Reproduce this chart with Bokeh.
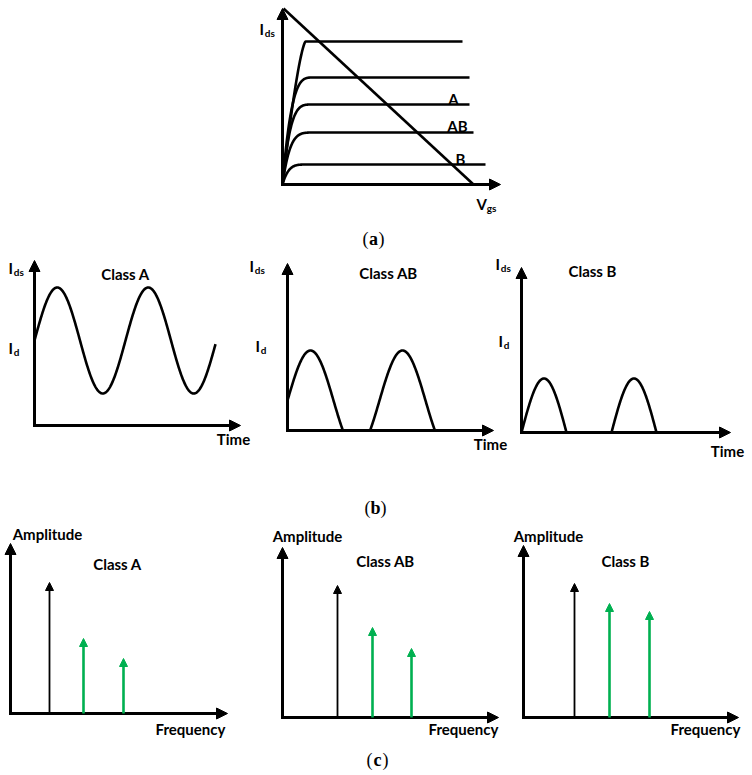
import numpy as np
from bokeh.plotting import figure
from bokeh.models import Range1d, Arrow, NormalHead
from bokeh.core.properties import value
from bokeh.embed import file_html
from bokeh.resources import INLINE

# ---------------- data (picture pixel coordinates) ----------------
# (a) I-V characteristics
iv_origin = (282, 184)
iv_axis_top_y = 8
iv_axis_right_x = 500
iv_levels_y = [41, 77, 104, 132, 164]
iv_knee_x = [305, 313, 313, 318, 311]
iv_end_x = [462, 469, 469, 473, 485]
iv_knee_power = [1.4, 3.5, 4.0, 5.0, 5.0]
load_line_x = [283, 473]
load_line_y = [8, 184]
iv_labels = ["A", "AB", "B"]
iv_labels_x = [453, 457, 460]
iv_labels_y = [98, 125, 158]

# (b) current waveforms
wave_origin_x = [34, 287, 521]
wave_origin_y = [425, 430, 432]
wave_top_y = [260, 263, 267]
wave_right_x = [240, 493, 730]
wave_bias = [85, 30, 0]
wave_amp = [53, 50, 54]
wave_period = [91, 92, 90]
wave_end_x = [215, 440, 662]
wave_titles = ["Class A", "Class AB", "Class B"]
wave_titles_x = [125, 388, 592]
wave_titles_y = [273, 272, 270]
time_x = [233, 490, 727]
time_y = [438, 443, 450]
ids_x = [8, 249, 495]
ids_y = [267, 265, 263]
id_x = [8, 255, 498]
id_y = [347, 345, 340]

# (c) spectra
spec_origin_x = [10, 282, 523]
spec_origin_y = [713, 717, 717]
spec_top_y = [543, 547, 545]
spec_right_x = [227, 498, 738]
fund_x = [49, 337, 574]
fund_top = [582, 585, 583]
harm2_x = [83, 372, 609]
harm2_top = [638, 627, 603]
harm3_x = [123, 411, 649]
harm3_top = [658, 648, 611]
spec_titles = ["Class A", "Class AB", "Class B"]
spec_titles_x = [117, 385, 625]
spec_titles_y = [563, 560, 560]
ampl_x = [47, 307, 548]
ampl_y = [533, 535, 535]
freq_x = [190, 463, 705]
freq_y = [728, 728, 728]

captions = ["a", "b", "c"]
captions_x = [373, 375, 377]
captions_y = [238, 507, 759]

GREEN = "#00B050"
SANS = value("Lato")
SERIF = value("Liberation Serif")

# ---------------- figure ----------------
W, H = 752, 775
p = figure(width=W, height=H, x_range=Range1d(0, W), y_range=Range1d(H, 0),
           output_backend="svg", toolbar_location=None, min_border=0,
           x_axis_location=None, y_axis_location=None)
p.grid.visible = False
p.outline_line_color = None


def axes(x0, y0, top, right, lw=3, head=11):
    p.line([x0, x0, right - 6], [top + 6, y0, y0], line_color="black", line_width=lw,
           line_join="miter")
    for (xs, ys, xe, ye) in [(x0, y0, x0, top), (x0, y0, right, y0)]:
        p.add_layout(Arrow(x_start=xs, y_start=ys, x_end=xe, y_end=ye, line_width=lw,
                           line_color="black",
                           end=NormalHead(size=head, fill_color="black", line_color="black",
                                          line_width=1)))


def sub_label(base, sub, x, y, size=15, sub_size=10, off=0.35):
    p.text([x], [y], text=[base], text_font=SANS, text_font_style="bold",
           text_font_size=f"{size}px", text_align="left", text_baseline="middle")
    p.text([x + off * size], [y + 0.28 * size], text=[sub], text_font=SANS,
           text_font_style="bold", text_font_size=f"{sub_size}px", text_align="left",
           text_baseline="middle")


def label(txts, xs, ys, size=15):
    p.text(xs, ys, text=txts, text_font=SANS, text_font_style="bold",
           text_font_size=f"{size}px", text_align="center", text_baseline="middle")


# ---------------- (a) ----------------
x0, y0 = iv_origin
axes(x0, y0, iv_axis_top_y, iv_axis_right_x)
for lvl, kx, ex, k in zip(iv_levels_y, iv_knee_x, iv_end_x, iv_knee_power):
    t = np.linspace(0, 1, 60)
    xs = x0 + t * (kx - x0)
    ys = y0 - (y0 - lvl) * (1 - (1 - t) ** k)
    xs = np.append(xs, ex)
    ys = np.append(ys, lvl)
    p.line(xs, ys, line_color="black", line_width=2.6, line_join="round")
p.line(load_line_x, load_line_y, line_color="black", line_width=2.6)
label(iv_labels, iv_labels_x, iv_labels_y, 15)
sub_label("I", "ds", 259, 28)
sub_label("V", "gs", 476, 203, 15, 10, 0.68)

# ---------------- (b) ----------------
for i in range(3):
    ox, oy = wave_origin_x[i], wave_origin_y[i]
    axes(ox, oy, wave_top_y[i], wave_right_x[i])
    xs = np.linspace(ox, wave_end_x[i], 400)
    val = wave_bias[i] + wave_amp[i] * np.sin(2 * np.pi * (xs - ox) / wave_period[i])
    val = np.maximum(val, 0)
    p.line(xs, oy - val, line_color="black", line_width=2.6, line_join="round")
    sub_label("I", "ds", ids_x[i], ids_y[i])
    sub_label("I", "d", id_x[i], id_y[i])
label(wave_titles, wave_titles_x, wave_titles_y, 15)
label(["Time"] * 3, time_x, time_y, 15)

# ---------------- (c) ----------------
for i in range(3):
    axes(spec_origin_x[i], spec_origin_y[i], spec_top_y[i], spec_right_x[i])
    oy = spec_origin_y[i]
    p.add_layout(Arrow(x_start=fund_x[i], y_start=oy, x_end=fund_x[i], y_end=fund_top[i],
                       line_width=1.8, line_color="black",
                       end=NormalHead(size=8, fill_color="black", line_color="black",
                                      line_width=1)))
    for hx, ht in [(harm2_x[i], harm2_top[i]), (harm3_x[i], harm3_top[i])]:
        p.add_layout(Arrow(x_start=hx, y_start=oy, x_end=hx, y_end=ht,
                           line_width=2.6, line_color=GREEN,
                           end=NormalHead(size=8, fill_color=GREEN, line_color=GREEN,
                                          line_width=1)))
label(spec_titles, spec_titles_x, spec_titles_y, 15)
label(["Amplitude"] * 3, ampl_x, ampl_y, 15)
label(["Frequency"] * 3, freq_x, freq_y, 15)

# ---------------- captions ----------------
for c, cx, cy in zip(captions, captions_x, captions_y):
    p.text([cx], [cy], text=[c], text_font=SERIF, text_font_style="bold",
           text_font_size="18px", text_align="center", text_baseline="middle")
    p.text([cx - 8, cx + 8], [cy, cy], text=["(", ")"], text_font=SERIF,
           text_font_size="18px", text_align="center", text_baseline="middle")

open("out.html", "w").write(file_html(p, INLINE))
